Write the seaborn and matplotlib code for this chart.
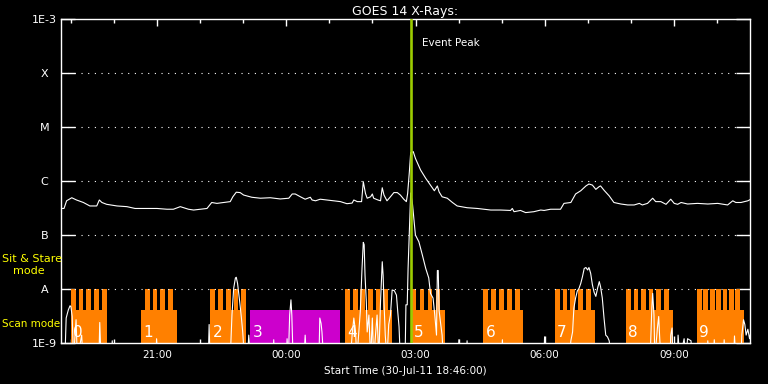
import numpy as np
import pandas as pd
import matplotlib
matplotlib.use("Agg")
import matplotlib.pyplot as plt
import matplotlib.dates as mdates
from matplotlib.ticker import FixedLocator, NullLocator
import seaborn as sns

# times are hours after the start of the plot (30-Jul-11 18:46:00)
start = pd.Timestamp("2011-07-30 18:46:00")
span_hours = 16.0
event_peak = 8.13

# GOES long channel (1-8 A), units of 1e-7 W/m^2
long_t = [0, 0.07, 0.13, 0.25, 0.36, 0.52, 0.67, 0.83, 0.89, 0.95,
          1.06, 1.30, 1.53, 1.72, 1.99, 2.23, 2.46, 2.61, 2.77, 2.96,
          3.08, 3.23, 3.39, 3.50, 3.62, 3.77, 3.93, 3.99, 4.07, 4.16,
          4.24, 4.43, 4.63, 4.86, 5.09, 5.29, 5.37, 5.44, 5.56, 5.67,
          5.79, 5.83, 5.91, 6.02, 6.18, 6.33, 6.49, 6.64, 6.76, 6.80,
          6.88, 6.98, 7.02, 7.07, 7.11, 7.19, 7.23, 7.26, 7.36, 7.42,
          7.46, 7.50, 7.57, 7.65, 7.73, 7.81, 7.88, 7.96, 8.02, 8.05,
          8.09, 8.12, 8.18, 8.23, 8.35, 8.47, 8.58, 8.67, 8.74, 8.78,
          8.85, 8.97, 9.09, 9.20, 9.43, 9.67, 9.98, 10.21, 10.44, 10.48,
          10.52, 10.67, 10.79, 10.98, 11.14, 11.22, 11.37, 11.60, 11.68, 11.84,
          11.95, 12.07, 12.19, 12.26, 12.34, 12.42, 12.50, 12.53, 12.61, 12.73,
          12.84, 13.00, 13.16, 13.31, 13.43, 13.50, 13.62, 13.74, 13.81, 13.93,
          14.05, 14.16, 14.24, 14.32, 14.40, 14.55, 14.78, 15.02, 15.25, 15.48,
          15.60, 15.67, 15.79, 15.95, 16.02]
long_flux = [3.1, 3.1, 4.3, 4.9, 4.45, 4.0, 3.45, 3.45, 4.45, 4.0,
             3.7, 3.45, 3.35, 3.1, 3.1, 3.1, 3.0, 3.0, 3.35, 3.0,
             2.9, 3.0, 3.1, 4.0, 3.85, 4.0, 4.15, 5.1, 6.2, 6.1,
             5.5, 5.0, 4.8, 4.9, 4.65, 4.8, 5.75, 5.75, 5.1, 4.6,
             5.0, 4.45, 4.3, 4.6, 4.45, 4.3, 4.15, 3.8, 3.9, 4.45,
             4.15, 4.15, 9.7, 5.9, 4.8, 5.1, 5.75, 4.8, 4.45, 4.3,
             7.5, 5.5, 4.3, 5.1, 6.1, 6.1, 5.5, 4.6, 4.15, 5.9,
             14.9, 33.5, 35, 26.3, 16, 11.2, 8.4, 6.6, 8.1, 6.3,
             5.1, 4.8, 4.0, 3.45, 3.2, 3.1, 2.9, 2.9, 2.85, 3.1,
             2.7, 2.85, 2.6, 2.7, 2.9, 2.85, 3.0, 3.0, 3.85, 4.0,
             5.75, 6.6, 8.1, 8.8, 8.4, 7.0, 7.9, 8.1, 6.75, 5.3,
             4.0, 3.75, 3.6, 3.6, 3.85, 3.6, 3.85, 4.8, 4.15, 4.15,
             3.7, 4.6, 3.85, 3.7, 4.0, 3.75, 3.85, 3.75, 3.85, 3.6,
             4.3, 4.0, 4.0, 4.3, 4.6]

# GOES short channel (0.5-4 A), units of 1e-9 W/m^2 (0.5 = below the plot floor)
short_t = [0, 0.09, 0.12, 0.17, 0.21, 0.23, 0.26, 0.29, 0.35, 0.38,
           0.48, 0.51, 0.88, 0.90, 0.93, 1.17, 1.19, 1.21, 2.20, 2.22,
           2.25, 3.42, 3.44, 3.46, 3.93, 3.97, 4.01, 4.05, 4.07, 4.10,
           4.15, 4.19, 4.22, 4.26, 4.33, 4.36, 4.40, 4.92, 4.94, 4.96,
           5.23, 5.25, 5.28, 5.31, 5.34, 5.36, 5.39, 5.64, 5.67, 5.70,
           5.99, 6.01, 6.04, 6.06, 6.10, 6.72, 6.76, 6.80, 6.84, 6.87,
           6.95, 6.99, 7.02, 7.04, 7.06, 7.09, 7.11, 7.15, 7.19, 7.23,
           7.26, 7.34, 7.38, 7.42, 7.46, 7.48, 7.50, 7.53, 7.57, 7.61,
           7.65, 7.69, 7.74, 7.79, 7.82, 7.85, 7.88, 7.99, 8.01, 8.04,
           8.06, 8.12, 8.16, 8.23, 8.31, 8.39, 8.47, 8.54, 8.58, 8.64,
           8.68, 8.72, 8.74, 8.76, 8.78, 8.81, 8.85, 8.88, 9.22, 9.24,
           9.26, 9.41, 9.43, 9.45, 10.23, 10.25, 10.27, 11.21, 11.23, 11.25,
           11.80, 11.84, 11.88, 11.91, 11.95, 11.99, 12.03, 12.07, 12.11, 12.15,
           12.19, 12.23, 12.26, 12.30, 12.34, 12.38, 12.42, 12.46, 12.50, 12.53,
           12.57, 12.61, 12.65, 12.69, 12.73, 12.78, 13.68, 13.72, 13.74, 13.77,
           13.79, 13.85, 13.88, 13.90, 13.93, 14.14, 14.16, 14.19, 14.21, 14.31,
           14.33, 14.37, 14.47, 14.51, 14.55, 14.63, 14.66, 15.00, 15.02, 15.05,
           15.15, 15.17, 15.20, 15.38, 15.40, 15.43, 15.62, 15.64, 15.67, 15.79,
           15.81, 15.85, 15.88, 15.91, 15.95, 15.99, 16.02]
short_flux = [0.5, 0.5, 2.9, 4.1, 4.9, 4.7, 3.1, 0.5, 2.7, 0.5,
              1.4, 0.5, 0.5, 2.4, 0.5, 0.5, 1.1, 0.5, 0.5, 1.2,
              0.5, 0.5, 2.2, 0.5, 0.5, 3.3, 10.3, 16, 16.5, 12.7,
              5.8, 2.9, 1.6, 0.5, 0.5, 1.4, 0.5, 0.5, 1.15, 0.5,
              0.5, 1.2, 0.5, 3.3, 6.3, 3.3, 0.5, 0.5, 1.4, 0.5,
              0.5, 2.9, 2.3, 1.6, 0.5, 0.5, 1.4, 2.9, 1.6, 0.5,
              3.8, 24, 73, 66, 18, 5.8, 1.6, 3.3, 0.5, 2.9,
              0.5, 3.3, 0.5, 5.8, 32, 18, 5.8, 1.4, 0.5, 2.2,
              3.3, 9.6, 9.3, 7.7, 3.8, 2.0, 0.5, 0.5, 5.1, 5.1,
              24, 600, 390, 100, 75, 43, 24, 16, 8.3, 6.8,
              3.3, 1.4, 22, 22, 4, 2.5, 1.4, 0.5, 0.5, 1.15,
              0.5, 0.5, 1.1, 0.5, 0.5, 1.15, 0.5, 0.5, 1.3, 0.5,
              0.5, 1.1, 1.6, 4.4, 6.8, 9.2, 10.3, 12.7, 17, 24,
              25, 22.5, 25, 19.5, 12, 8.7, 7.3, 10.3, 13.7, 11,
              6.8, 2.9, 1.4, 1.3, 1.1, 0.5, 0.5, 4.4, 8.3, 3.3,
              0.5, 1.9, 3.1, 1.4, 0.5, 0.5, 1.4, 1.9, 0.5, 0.5,
              1.4, 0.5, 1.2, 0.5, 1.2, 1.1, 0.5, 0.5, 1.1, 0.5,
              0.5, 1.15, 0.5, 0.5, 1.15, 0.5, 0.5, 1.35, 0.5, 0.5,
              1.4, 2.7, 2.2, 1.4, 1.8, 1.2, 1.6]

# observing blocks: scan rasters (orange) and one sit & stare run (magenta)
scan_ids = [0, 1, 2, 4, 5, 6, 7, 8, 9]
scan_start = [0.23, 1.86, 3.47, 6.60, 8.14, 9.81, 11.47, 13.12, 14.77]
scan_end = [1.06, 2.69, 4.30, 7.69, 8.91, 10.74, 12.40, 14.21, 15.86]
teeth_start = [0.23, 1.95, 3.47, 6.60, 8.14, 9.81, 11.47, 13.12, 14.77]
teeth_end = [1.06, 2.60, 4.30, 7.59, 8.81, 10.65, 12.30, 14.11, 15.77]
teeth_n = [5, 4, 5, 6, 4, 5, 5, 6, 7]
stare_ids = [3]
stare_start = [4.40]
stare_end = [6.48]

level_vals = [1e-9, 1e-8, 1e-7, 1e-6, 1e-5, 1e-4, 1e-3]
level_labels = ["1E-9", "A", "B", "C", "M", "X", "1E-3"]

ORANGE = "#ff8000"
MAGENTA = "#cc00cc"
GREEN = "#9ccc00"
YELLOW = "#ffff00"
LOW_TOP = 0.102      # axes fraction of the lower bar
TOOTH_W = 0.11       # hours


def to_num(hours):
    return mdates.date2num(start + pd.to_timedelta(np.asarray(hours), unit="h"))


df_long = pd.DataFrame({"time": start + pd.to_timedelta(long_t, unit="h"),
                        "flux": np.array(long_flux) * 1e-7})
df_short = pd.DataFrame({"time": start + pd.to_timedelta(short_t, unit="h"),
                         "flux": np.array(short_flux) * 1e-9})

sns.set_theme(style="dark", rc={"figure.facecolor": "black", "axes.facecolor": "black",
                                "axes.edgecolor": "white", "text.color": "white",
                                "xtick.color": "white", "ytick.color": "white",
                                "axes.labelcolor": "white"})
plt.rcParams["font.family"] = ["DejaVu Sans"]

fig = plt.figure(figsize=(7.68, 3.84), dpi=100)
ax = fig.add_axes([61 / 768, 41 / 384, 689 / 768, 324 / 384])
ax.set_yscale("log")

# observing mode blocks
tooth_top = 1.0 / 6
for i, s, e, ts, te, n in zip(scan_ids, scan_start, scan_end, teeth_start, teeth_end, teeth_n):
    ax.axvspan(to_num(s), to_num(e), ymin=0, ymax=LOW_TOP, color=ORANGE, lw=0, zorder=1)
    for t0 in np.linspace(ts, te - TOOTH_W, n):
        ax.axvspan(to_num(t0), to_num(t0 + TOOTH_W), ymin=0, ymax=tooth_top,
                   color=ORANGE, lw=0, zorder=1)
    ax.text(to_num(s + 0.05), 0.031, str(i), transform=ax.get_xaxis_transform(),
            color="white", fontsize=11, va="center", ha="left", zorder=3)
for i, s, e in zip(stare_ids, stare_start, stare_end):
    ax.axvspan(to_num(s), to_num(e), ymin=0, ymax=LOW_TOP, color=MAGENTA, lw=0, zorder=1)
    ax.text(to_num(s + 0.05), 0.031, str(i), transform=ax.get_xaxis_transform(),
            color="white", fontsize=11, va="center", ha="left", zorder=3)

for lvl in level_vals[1:-1]:
    ax.axhline(lvl, color="white", lw=0.8, ls=(0, (1, 5)), zorder=2)

sns.lineplot(data=df_long, x="time", y="flux", color="white", lw=0.8,
             estimator=None, sort=False, ax=ax, zorder=4)
sns.lineplot(data=df_short, x="time", y="flux", color="white", lw=0.8,
             estimator=None, sort=False, ax=ax, zorder=4)

ax.axvline(to_num(event_peak), color=GREEN, lw=1.9, zorder=6)
ax.annotate("Event Peak", xy=(to_num(event_peak), 1), xycoords=("data", "axes fraction"),
            xytext=(8, -17), textcoords="offset points", color="white",
            fontsize=7.5, ha="left", va="center")

ax.set_xlim(to_num(0), to_num(span_hours))
ax.set_ylim(level_vals[0], level_vals[-1])
ax.yaxis.set_major_locator(FixedLocator(level_vals))
ax.yaxis.set_minor_locator(NullLocator())
ax.set_yticklabels(level_labels)
for lbl in ax.get_yticklabels():
    lbl.set_ha("center")
ax.xaxis.set_major_locator(mdates.HourLocator(byhour=range(0, 24, 3)))
ax.xaxis.set_minor_locator(mdates.HourLocator())
ax.xaxis.set_major_formatter(mdates.DateFormatter("%H:%M"))

ax.tick_params(axis="y", which="major", direction="in", left=True, right=True,
               length=10, width=1, pad=12, labelsize=8)
ax.tick_params(axis="x", which="major", direction="in", top=True, bottom=True,
               length=5, width=1, pad=5, labelsize=7.5)
ax.tick_params(axis="x", which="minor", direction="in", top=True, bottom=True,
               length=3, width=1)
for sp in ax.spines.values():
    sp.set_color("white")
    sp.set_linewidth(1)
ax.grid(False)

ax.set_title("GOES 14 X-Rays:", color="white", fontsize=9, pad=3)
ax.set_xlabel("Start Time (30-Jul-11 18:46:00)", fontsize=7.5, labelpad=4)
ax.set_ylabel("")

fig.text(2 / 768, 1 - 259 / 384, "Sit & Stare", color=YELLOW, fontsize=8, va="center")
fig.text(13 / 768, 1 - 271 / 384, "mode", color=YELLOW, fontsize=8, va="center")
fig.text(2 / 768, 1 - 324 / 384, "Scan mode", color=YELLOW, fontsize=7.5, va="center")

plt.savefig("out.png", dpi=100, facecolor="black")
